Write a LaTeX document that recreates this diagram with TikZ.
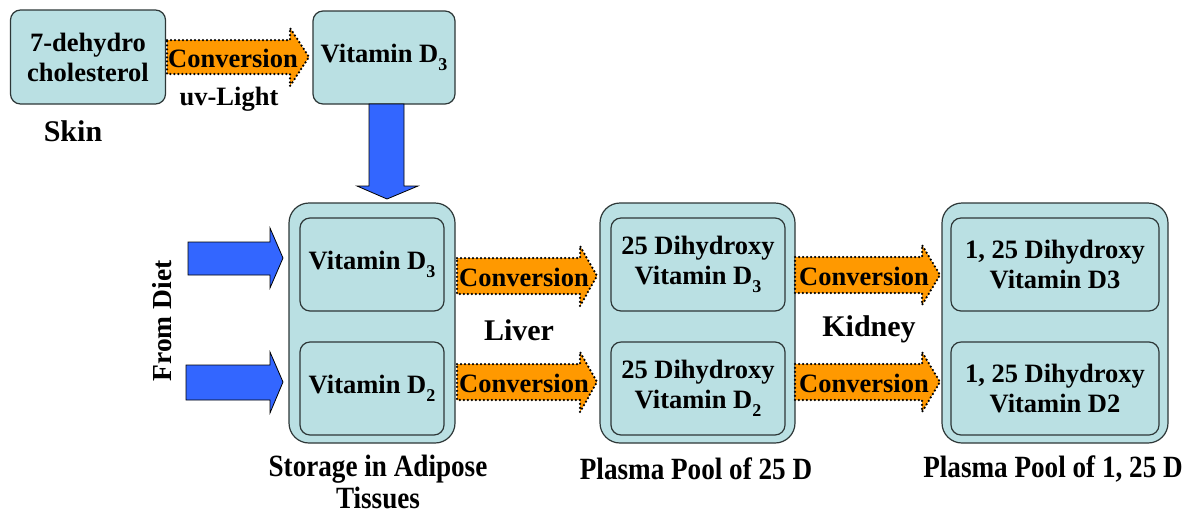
\documentclass[tikz,border=0pt]{standalone}
\usepackage{fontspec}
\setmainfont{Liberation Serif}[BoldFont={Liberation Serif Bold}]
\definecolor{boxfill}{RGB}{186,224,227}
\definecolor{boxline}{RGB}{45,55,55}
\definecolor{convorange}{RGB}{255,153,0}
\definecolor{arrowblue}{RGB}{51,102,255}
\newcommand\mainf{\rmfamily\bfseries\fontsize{26.5}{30}\selectfont}
\newcommand\bigf{\rmfamily\bfseries\fontsize{30}{32}\selectfont}
\newcommand\dsub[1]{\raisebox{-0.28em}{\fontsize{18}{18}\selectfont #1}}
\newcommand\condensed[1]{\scalebox{0.905}[1.03]{#1}}
\tikzset{
  box/.style={draw=boxline, fill=boxfill, rounded corners=10pt, line width=1.2pt,
    align=center, inner sep=0pt, font=\mainf},
  outerbox/.style={draw=boxline, fill=boxfill, rounded corners=20pt, line width=1.2pt, inner sep=0pt},
  lbl/.style={font=\bigf, inner sep=0pt, align=center},
  convtext/.style={font=\mainf, inner sep=0pt},
  convarrow/.style={fill=convorange, draw=black, line width=2.5pt,
    dash pattern=on 0pt off 4pt, line cap=round},
  bluearrow/.style={fill=arrowblue, draw=black, line width=0.8pt},
}
\begin{document}
\begin{tikzpicture}[x=1pt,y=-1pt]
\useasboundingbox (0,0) rectangle (1193,515);

% boxes
\node[box, minimum width=155pt, minimum height=94pt] (dehydro) at (88,57) {7-dehydro\\cholesterol};
\node[box, minimum width=142pt, minimum height=93pt] (vd3top) at (384,57.5) {Vitamin D\dsub{3}};

\node[outerbox, minimum width=166pt, minimum height=240pt] (storage) at (372,323) {};
\node[box, minimum width=144pt, minimum height=93pt] (sd3) at (372,264.5) {Vitamin D\dsub{3}};
\node[box, minimum width=144pt, minimum height=93pt] (sd2) at (372,388.5) {Vitamin D\dsub{2}};

\node[outerbox, minimum width=195pt, minimum height=240pt] (pool25) at (697.5,323) {};
\node[box, minimum width=174pt, minimum height=93pt] (p25d3) at (698,264.5) {25 Dihydroxy\\Vitamin D\dsub{3}};
\node[box, minimum width=174pt, minimum height=93pt] (p25d2) at (698,388.5) {25 Dihydroxy\\Vitamin D\dsub{2}};

\node[outerbox, minimum width=226pt, minimum height=240pt] (pool125) at (1055,323) {};
\node[box, minimum width=208pt, minimum height=93pt] (p125d3) at (1055,264.5) {1, 25 Dihydroxy\\Vitamin D3};
\node[box, minimum width=208pt, minimum height=93pt] (p125d2) at (1055,388.5) {1, 25 Dihydroxy\\Vitamin D2};

% orange conversion arrows
\path[convarrow] (167,40) -- (290,40) -- (290,28) -- (309,57) -- (290,86) -- (290,74) -- (167,74) -- cycle;
\path[convarrow] (457,258) -- (580,258) -- (580,246) -- (597,276) -- (580,306) -- (580,294) -- (457,294) -- cycle;
\path[convarrow] (457,364) -- (580,364) -- (580,352) -- (597,382) -- (580,412) -- (580,400) -- (457,400) -- cycle;
\path[convarrow] (795,257) -- (922,257) -- (922,245) -- (940,275) -- (922,305) -- (922,293) -- (795,293) -- cycle;
\path[convarrow] (795,364) -- (922,364) -- (922,352) -- (940,382) -- (922,412) -- (922,400) -- (795,400) -- cycle;

\node[convtext] (c1) at (233,58) {Conversion};
\node[convtext] (c2) at (524,277) {Conversion};
\node[convtext] (c3) at (524,383) {Conversion};
\node[convtext] (c4) at (864,276) {Conversion};
\node[convtext] (c5) at (864,383) {Conversion};

% blue arrows
\path[bluearrow] (369,104) -- (404,104) -- (404,186) -- (418,186) -- (387,199) -- (357,186) -- (369,186) -- cycle;
\path[bluearrow] (188,242) -- (270,242) -- (270,228) -- (283,258) -- (270,288) -- (270,275) -- (188,275) -- cycle;
\path[bluearrow] (186,365) -- (270,365) -- (270,352) -- (283,382) -- (270,413) -- (270,400) -- (186,400) -- cycle;

% labels
\node[convtext] (uv) at (229,99) {uv-Light};
\node[lbl] (skin) at (73,131) {Skin};
\node[lbl] (liver) at (519,330) {Liver};
\node[lbl] (kidney) at (869,329) {Kidney};
\node[lbl, font=\rmfamily\bfseries\fontsize{27.5}{30}\selectfont, rotate=90] (diet) at (162,321) {From Diet};
\node[lbl] (lstorage) at (378,469) {\condensed{Storage in Adipose}};
\node[lbl] (ltissues) at (378,498) {\condensed{Tissues}};
\node[lbl] (lpool25) at (696,469) {\condensed{Plasma Pool of 25 D}};
\node[lbl] (lpool125) at (1053,469) {\condensed{Plasma Pool of 1, 25 D}};
\end{tikzpicture}
\end{document}
